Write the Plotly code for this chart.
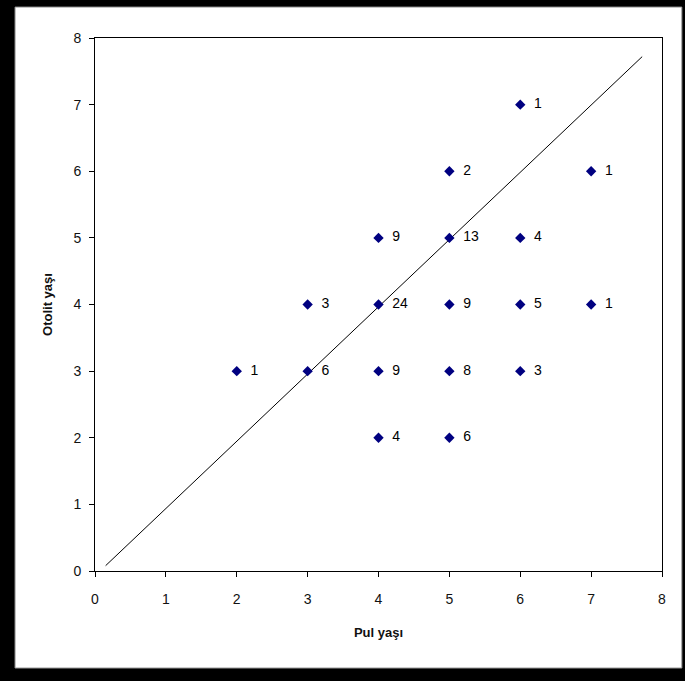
import plotly.graph_objects as go

# Data
pul_yasi = [2, 3, 3, 4, 4, 4, 4, 5, 5, 5, 5, 5, 6, 6, 6, 6, 7, 7]
otolit_yasi = [3, 4, 3, 5, 4, 3, 2, 6, 5, 4, 3, 2, 7, 5, 4, 3, 6, 4]
counts = [1, 3, 6, 9, 24, 9, 4, 2, 13, 9, 8, 6, 1, 4, 5, 3, 1, 1]
line_x = [0.15, 7.72]
line_y = [0.08, 7.72]
ticks = [0, 1, 2, 3, 4, 5, 6, 7, 8]

font = "Liberation Sans, Arial, sans-serif"

fig = go.Figure()
fig.add_trace(go.Scatter(
    x=line_x, y=line_y, mode="lines",
    line=dict(color="black", width=1), hoverinfo="skip", showlegend=False))
fig.add_trace(go.Scatter(
    x=pul_yasi, y=otolit_yasi, mode="markers+text",
    marker=dict(symbol="diamond", size=8, color="#000080"),
    text=["  " + str(c) for c in counts],
    textposition="middle right",
    textfont=dict(family=font, size=14, color="black"),
    showlegend=False, cliponaxis=False))

fig.update_layout(
    width=685, height=681,
    margin=dict(l=95, r=23, t=38, b=110),
    paper_bgcolor="black",
    plot_bgcolor="white",
    font=dict(family=font, size=14, color="#111"),
    shapes=[dict(type="rect", xref="paper", yref="paper",
                 x0=-0.141, x1=1.035, y0=-0.182, y1=1.058,
                 fillcolor="white", line=dict(color="#999", width=1),
                 layer="below")],
    xaxis=dict(range=[0, 8], tickvals=ticks, showgrid=False, zeroline=False,
               showline=True, linecolor="black", linewidth=1, mirror=True,
               ticks="outside", ticklen=5, tickcolor="black",
               ticklabelstandoff=10,
               tickfont=dict(size=14, family=font, color="#111"),
               title=dict(text="<b>Pul yaşı</b>", font=dict(size=13, family=font, color="#111"), standoff=22)),
    yaxis=dict(range=[0, 8], tickvals=ticks, showgrid=False, zeroline=False,
               showline=True, linecolor="black", linewidth=1, mirror=True,
               ticks="outside", ticklen=5, tickcolor="black",
               ticklabelstandoff=5,
               tickfont=dict(size=14, family=font, color="#111"),
               title=dict(text="<b>Otolit yaşı</b>", font=dict(size=13, family=font, color="#111"), standoff=17)),
)

fig.write_html("out.html", config={"displayModeBar": False},
               post_script="document.body.style.margin='0';document.body.style.background='black';")
